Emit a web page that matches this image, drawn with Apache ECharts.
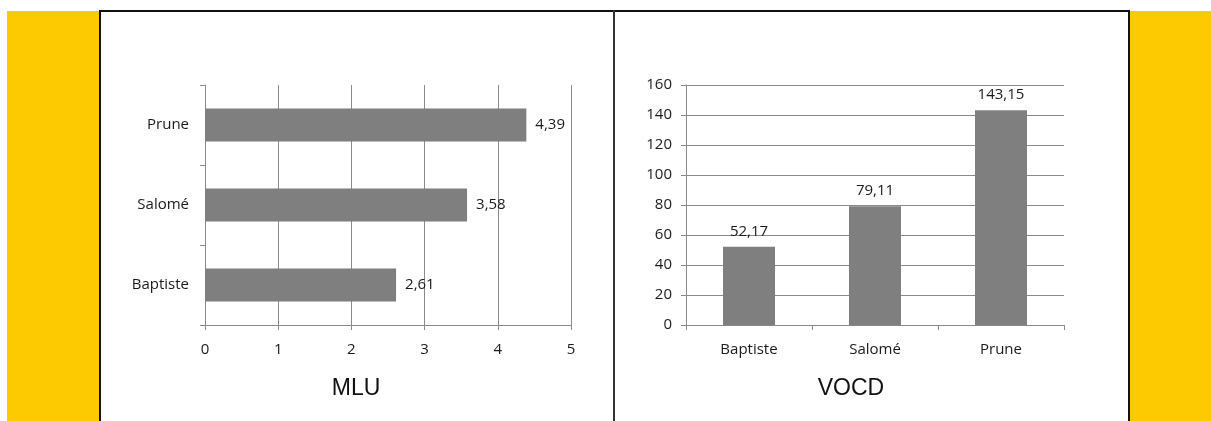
<!DOCTYPE html>
<html>
<head>
<meta charset="utf-8">
<script src="https://cdn.jsdelivr.net/npm/echarts@6/dist/echarts.min.js"></script>
<style>
  html, body { margin: 0; padding: 0; background: #ffffff; }
  #stage { position: relative; width: 1211px; height: 421px; overflow: hidden; }
  .band { position: absolute; background: #fdc900; }
  .rule { position: absolute; background: #111111; }
  #chart { position: absolute; left: 0; top: 0; width: 1211px; height: 421px; }
</style>
</head>
<body>
<div id="stage">
  <div class="band" style="left:7px; top:11px; width:93px; height:410px;"></div>
  <div class="band" style="left:1130px; top:11px; width:81px; height:410px;"></div>
  <div class="rule" style="left:100px; top:10px; width:1030px; height:2px;"></div>
  <div class="rule" style="left:99px; top:10px; width:2px; height:411px;"></div>
  <div class="rule" style="left:613px; top:10px; width:2px; height:411px; background:#333;"></div>
  <div class="rule" style="left:1128px; top:10px; width:2px; height:411px;"></div>
  <div id="chart"></div>
</div>
<script>
// Mean length of utterance per child
const mluNames = ['Baptiste', 'Salomé', 'Prune'];
const mluValues = [2.61, 3.58, 4.39];
const mluTicks = [0, 1, 2, 3, 4, 5];

// Lexical diversity (VOCD) per child
const vocdNames = ['Baptiste', 'Salomé', 'Prune'];
const vocdValues = [52.17, 79.11, 143.15];
const vocdTicks = [0, 20, 40, 60, 80, 100, 120, 140, 160];

const chartTitles = ['MLU', 'VOCD'];

const tickFont = { fontFamily: 'Open Sans', fontSize: 15, color: '#1a1a1a' };
const gray = '#8a8a8a';
const comma = v => String(v).replace('.', ',');

const chart = echarts.init(document.getElementById('chart'), null, { renderer: 'canvas' });

chart.setOption({
  animation: false,
  backgroundColor: 'transparent',
  graphic: [
    { type: 'text', x: 356, y: 389,
      style: { text: chartTitles[0], fontFamily: 'Liberation Sans', fontSize: 23,
        fill: '#111', align: 'center', verticalAlign: 'middle' } },
    { type: 'text', x: 851, y: 389,
      style: { text: chartTitles[1], fontFamily: 'Liberation Sans', fontSize: 23,
        fill: '#111', align: 'center', verticalAlign: 'middle' } }
  ],
  grid: [
    { left: 205, top: 85, width: 366, height: 240 },
    { left: 686, top: 85, width: 378, height: 240 }
  ],
  xAxis: [
    {
      gridIndex: 0, type: 'value',
      min: mluTicks[0], max: mluTicks[mluTicks.length - 1], interval: 1,
      axisLine: { show: true, lineStyle: { color: gray } },
      axisTick: { show: true, length: 5, lineStyle: { color: gray } },
      splitLine: { show: true, lineStyle: { color: gray } },
      axisLabel: Object.assign({ margin: 17 }, tickFont)
    },
    {
      gridIndex: 1, type: 'category', data: vocdNames,
      axisLine: { show: true, lineStyle: { color: gray } },
      axisTick: { show: true, length: 5, alignWithLabel: false, lineStyle: { color: gray } },
      axisLabel: Object.assign({ margin: 17 }, tickFont)
    }
  ],
  yAxis: [
    {
      gridIndex: 0, type: 'category', data: mluNames,
      axisLine: { show: true, lineStyle: { color: gray } },
      axisTick: { show: true, length: 5, alignWithLabel: false, lineStyle: { color: gray } },
      axisLabel: Object.assign({ margin: 16 }, tickFont)
    },
    {
      gridIndex: 1, type: 'value',
      min: vocdTicks[0], max: vocdTicks[vocdTicks.length - 1], interval: 20,
      axisLine: { show: true, lineStyle: { color: gray } },
      axisTick: { show: true, length: 5, lineStyle: { color: gray } },
      splitLine: { show: true, lineStyle: { color: gray } },
      axisLabel: Object.assign({ margin: 14 }, tickFont)
    }
  ],
  series: [
    {
      type: 'bar', xAxisIndex: 0, yAxisIndex: 0, data: mluValues,
      barWidth: 33, itemStyle: { color: '#7f7f7f' },
      label: { show: true, position: 'right', distance: 9,
        formatter: p => comma(p.value), ...tickFont }
    },
    {
      type: 'bar', xAxisIndex: 1, yAxisIndex: 1, data: vocdValues,
      barWidth: 52, itemStyle: { color: '#7f7f7f' },
      label: { show: true, position: 'top', distance: 8,
        formatter: p => comma(p.value), ...tickFont }
    }
  ]
});
</script>
</body>
</html>
